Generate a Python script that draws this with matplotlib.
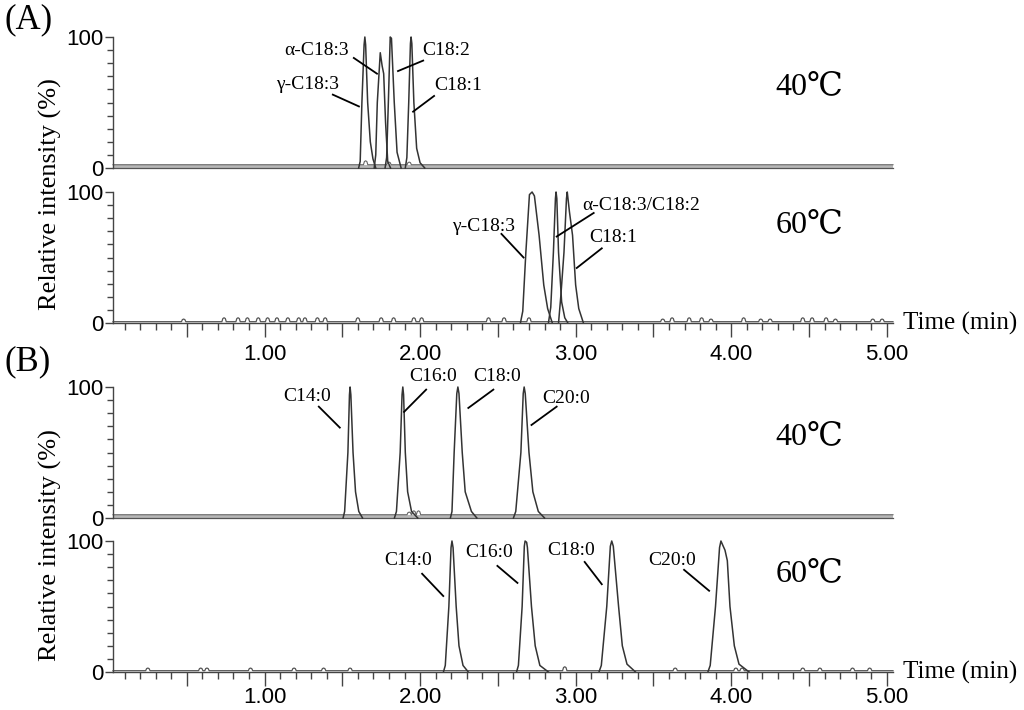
import matplotlib.pyplot as plt
from matplotlib.ticker import MultipleLocator, FuncFormatter

serif = ['Liberation Serif', 'DejaVu Serif', 'Noto Sans CJK SC']
sans = ['Liberation Sans', 'DejaVu Sans']

# time axis range (min)
t_min, t_max = 0.026, 5.04

# (A) 40C traces: gamma-C18:3, alpha-C18:3, C18:2, C18:1
a40_t = [
    [1.605, 1.615, 1.626, 1.640, 1.645, 1.650, 1.663, 1.680, 1.697, 1.715],
    [1.705, 1.715, 1.725, 1.744, 1.756, 1.766, 1.778, 1.792, 1.810],
    [1.775, 1.785, 1.796, 1.808, 1.816, 1.834, 1.852, 1.878],
    [1.905, 1.915, 1.927, 1.938, 1.942, 1.947, 1.960, 1.978, 2.000, 2.030],
]
a40_y = [
    [0, 5, 50, 94, 100, 94, 50, 20, 7, 0],
    [0, 10, 50, 88, 78, 72, 35, 5, 0],
    [0, 8, 50, 100, 99, 50, 12, 0],
    [0, 8, 50, 95, 100, 95, 50, 15, 4, 0],
]
# (A) 60C traces: gamma-C18:3, alpha-C18:3/C18:2, C18:1
a60_t = [
    [2.645, 2.660, 2.680, 2.703, 2.720, 2.735, 2.765, 2.795, 2.820, 2.850],
    [2.825, 2.840, 2.857, 2.870, 2.874, 2.879, 2.890, 2.910, 2.930, 2.950],
    [2.890, 2.905, 2.925, 2.941, 2.946, 2.960, 2.980, 3.000, 3.020, 3.050],
]
a60_y = [
    [0, 9, 54, 98, 100, 97, 67, 29, 11, 0],
    [0, 12, 54, 95, 100, 95, 54, 16, 4, 0],
    [0, 21, 54, 95, 100, 85, 67, 29, 11, 0],
]
# (B) 40C traces: C14:0, C16:0, C18:0, C20:0
b40_t = [
    [1.505, 1.515, 1.536, 1.546, 1.550, 1.555, 1.569, 1.585, 1.606, 1.630],
    [1.835, 1.848, 1.872, 1.884, 1.889, 1.894, 1.905, 1.920, 1.945, 1.985],
    [2.195, 2.205, 2.219, 2.236, 2.243, 2.250, 2.271, 2.290, 2.330, 2.365],
    [2.600, 2.615, 2.648, 2.663, 2.669, 2.676, 2.700, 2.725, 2.760, 2.800],
]
b40_y = [
    [0, 5, 50, 94, 100, 94, 50, 20, 5, 0],
    [0, 5, 50, 94, 100, 94, 50, 20, 5, 0],
    [0, 5, 50, 95, 100, 95, 50, 20, 5, 0],
    [0, 5, 50, 95, 100, 95, 50, 20, 5, 0],
]
# (B) 60C traces: C14:0, C16:0, C18:0, C20:0
b60_t = [
    [2.150, 2.162, 2.185, 2.199, 2.205, 2.212, 2.232, 2.250, 2.276, 2.310],
    [2.620, 2.632, 2.656, 2.670, 2.675, 2.685, 2.690, 2.716, 2.740, 2.770, 2.825],
    [3.150, 3.165, 3.200, 3.223, 3.232, 3.242, 3.276, 3.300, 3.330, 3.385],
    [3.850, 3.865, 3.899, 3.925, 3.934, 3.945, 3.960, 3.975, 3.992, 4.020, 4.050, 4.115],
]
b60_y = [
    [0, 5, 50, 95, 100, 95, 50, 20, 5, 0],
    [0, 5, 50, 96, 100, 99, 95, 50, 20, 5, 0],
    [0, 5, 50, 96, 100, 96, 50, 20, 6, 0],
    [0, 5, 50, 95, 100, 97, 93, 85, 50, 20, 6, 0],
]

# small baseline bumps (time, height %)
a40_bump_t = [1.65, 1.80, 1.93]
a40_bump_h = [3, 2, 2]
a60_bump_t = [0.48, 0.74, 0.83, 0.89, 0.96, 1.02, 1.08, 1.15, 1.22, 1.26, 1.34, 1.39,
              1.60, 1.75, 1.83, 1.96, 2.01, 2.44, 2.54, 2.70, 3.56, 3.62, 3.73, 3.81,
              3.87, 4.08, 4.19, 4.25, 4.46, 4.52, 4.61, 4.67, 4.91, 4.97]
a60_bump_h = [2, 3, 3, 3, 3, 3, 3, 3, 3, 3, 3, 3,
              3, 3, 3, 3, 3, 3, 3, 3, 2, 3, 3, 3,
              2, 3, 2, 2, 3, 3, 3, 2, 2, 2]
b40_bump_t = [1.93, 1.96, 1.99]
b40_bump_h = [2, 3, 3]
b60_bump_t = [0.25, 0.59, 0.63, 0.91, 1.19, 1.38, 1.55, 2.93, 3.64, 4.03, 4.07,
              4.46, 4.57, 4.78, 4.89]
b60_bump_h = [2, 2, 2, 2, 2, 2, 2, 3, 2, 2, 2, 2, 2, 2, 2]

# labels: (text, text_t, text_y, line_t0, line_y0, line_t1, line_y1)
a40_labels = [
    ('α-C18:3', 1.336, 90, 1.574, 84, 1.723, 72),
    ('γ-C18:3', 1.278, 64, 1.439, 56, 1.607, 47),
    ('C18:2', 2.168, 90, 2.020, 82, 1.858, 74),
    ('C18:1', 2.245, 63, 2.090, 55, 1.955, 43),
]
a60_labels = [
    ('γ-C18:3', 2.407, 74, 2.523, 68, 2.665, 50),
    ('α-C18:3/C18:2', 3.420, 90, 3.116, 84, 2.878, 66),
    ('C18:1', 3.239, 65, 3.168, 57, 3.007, 42),
]
b40_labels = [
    ('C14:0', 1.271, 93, 1.349, 85, 1.484, 69),
    ('C16:0', 2.084, 108, 2.039, 98, 1.897, 81),
    ('C18:0', 2.497, 108, 2.471, 98, 2.310, 84),
    ('C20:0', 2.936, 91, 2.878, 85, 2.716, 71),
]
b60_labels = [
    ('C14:0', 1.923, 85, 2.013, 75, 2.149, 58),
    ('C16:0', 2.445, 91, 2.497, 81, 2.626, 68),
    ('C18:0', 2.968, 93, 3.058, 84, 3.168, 67),
    ('C20:0', 3.620, 85, 3.697, 78, 3.858, 62),
]

fig = plt.figure(figsize=(10.24, 7.10), dpi=100)

L, W = 113 / 1024, 780 / 1024
H = 131 / 710
panels = [
    (1 - 168 / 710, a40_t, a40_y, a40_bump_t, a40_bump_h, a40_labels, '40℃', False),
    (1 - 323 / 710, a60_t, a60_y, a60_bump_t, a60_bump_h, a60_labels, '60℃', True),
    (1 - 518 / 710, b40_t, b40_y, b40_bump_t, b40_bump_h, b40_labels, '40℃', False),
    (1 - 672 / 710, b60_t, b60_y, b60_bump_t, b60_bump_h, b60_labels, '60℃', True),
]

for i, (bot, ts, ys, bt, bh, labs, temp, xaxis) in enumerate(panels):
    ax = fig.add_axes([L, bot, W, H])
    ax.set_xlim(t_min, t_max)
    ax.set_ylim(0, 100)
    for s in ['top', 'right']:
        ax.spines[s].set_visible(False)
    ax.spines['left'].set_linewidth(1.0)
    ax.spines['left'].set_color('#444444')

    # baseline with small rounded bumps
    bx, by = [t_min], [0]
    for t, h in sorted(zip(bt, bh)):
        bx += [t - 0.014, t - 0.008, t, t + 0.008, t + 0.014]
        by += [0, h * 0.8, h, h * 0.8, 0]
    bx.append(t_max)
    by.append(0)
    if xaxis:
        ax.plot(bx, [v + 1 for v in by], color='#555555', lw=0.9, clip_on=False)
    else:
        ax.fill_between([t_min, t_max], 0, 2.5, color='#b8b8b8', lw=0, clip_on=False)
        ax.plot([t_min, t_max], [0, 0], color='#555555', lw=0.9, clip_on=False)
        ax.plot(bx, [v + 2.5 for v in by], color='#666666', lw=0.8, clip_on=False)

    for t, y in zip(ts, ys):
        ax.plot(t, y, color='#333333', lw=1.1, clip_on=False)

    for txt, tx, ty, x0, y0, x1, y1 in labs:
        ax.text(tx, ty, txt, family=serif, fontsize=14, ha='center', va='center')
        ax.plot([x0, x1], [y0, y1], color='black', lw=1.3, clip_on=False)

    ax.text(0.893, 0.62 if i % 2 == 0 else 0.75, temp, transform=ax.transAxes,
            family=serif, fontsize=23, ha='center', va='center')

    ax.set_yticks([0, 100])
    ax.yaxis.set_minor_locator(MultipleLocator(10))
    ax.tick_params(axis='y', which='major', length=6, width=1.0, color='#444444',
                   labelsize=16, pad=1)
    ax.tick_params(axis='y', which='minor', length=4, width=1.0, color='#444444')
    for lab in ax.get_yticklabels():
        lab.set_family(sans)

    if xaxis:
        ax.spines['bottom'].set_color('#444444')
        ax.spines['bottom'].set_linewidth(1.0)
        ax.xaxis.set_major_locator(MultipleLocator(0.5))
        ax.xaxis.set_minor_locator(MultipleLocator(0.1))
        ax.xaxis.set_major_formatter(FuncFormatter(
            lambda v, p: '%.2f' % v if abs(v - round(v)) < 1e-6 and v > 0.5 else ''))
        ax.tick_params(axis='x', which='major', length=10, width=1.0, color='#444444',
                       labelsize=16, pad=5 if i == 1 else 1)
        ax.tick_params(axis='x', which='minor', length=5, width=1.0, color='#444444')
        for lab in ax.get_xticklabels():
            lab.set_family(sans)
        ax.text(1.013, 0.0, 'Time (min)', transform=ax.transAxes, family=serif,
                fontsize=18, ha='left', va='center')
    else:
        ax.spines['bottom'].set_visible(False)
        ax.set_xticks([])

# panel letters and y titles
fig.text(5 / 1024, 1 - 20 / 710, '(A)', family=serif, fontsize=25, ha='left', va='center')
fig.text(5 / 1024, 1 - 362 / 710, '(B)', family=serif, fontsize=25, ha='left', va='center')
fig.text(50 / 1024, 1 - 194 / 710, 'Relative intensity (%)', family=serif, fontsize=19,
         rotation=90, ha='center', va='center')
fig.text(50 / 1024, 1 - 545 / 710, 'Relative intensity (%)', family=serif, fontsize=19,
         rotation=90, ha='center', va='center')

fig.savefig('out.png', dpi=100)
